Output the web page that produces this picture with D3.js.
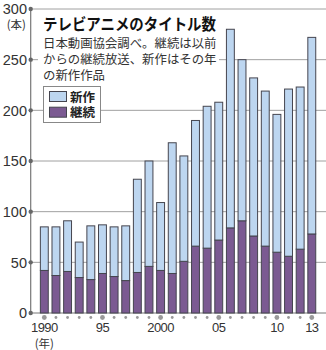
<!DOCTYPE html>
<html><head><meta charset="utf-8">
<script src="https://cdn.jsdelivr.net/npm/d3@7"></script>
<style>html,body{margin:0;padding:0;background:#fff;}svg{display:block;}</style>
</head><body>
<script>
const years = d3.range(1990, 2014);
const continuing = [42,37,41,35,33,39,36,32,40,46,42,39,51,66,64,72,84,91,76,66,60,56,63,78];
const newTitles = [43,48,50,35,53,48,49,54,92,104,67,129,104,124,140,136,196,159,156,153,136,165,160,194];
const yTicks = [0,50,100,150,200,250,300];
const xLabelYears = [1990,1995,2000,2005,2010,2013];
const xLabels = ["1990","95","2000","05","10","13"];
const seriesNames = ["新作","継続"];
const title = "テレビアニメのタイトル数";
const noteLines = ["日本動画協会調べ。継続は以前","からの継続放送、新作はその年","の新作作品"];

const W = 326, H = 350;
const svg = d3.select("body").append("svg").attr("width", W).attr("height", H);
const colNew = "#bdd6f0", colCont = "#7b5a92", stroke = "#45454f";
const fontNum = "'Liberation Sans', Arial, sans-serif";
const fontJP = "'Noto Sans CJK JP', sans-serif";

const y = d3.scaleLinear().domain([0,300]).range([313, 9]);
const x = d3.scaleBand().domain(years).range([38.5, 317.6]).paddingInner(0.32).paddingOuter(0.16);
const axisX = 30.7;

// gridlines
svg.append("g").selectAll("line").data(yTicks).join("line")
  .attr("x1", axisX).attr("x2", W).attr("y1", d => y(d)).attr("y2", d => y(d))
  .attr("stroke", d => d === 0 ? "#777" : "#a0a0a0").attr("stroke-width", 1);
// y axis line
svg.append("line").attr("x1", axisX).attr("x2", axisX).attr("y1", y(300)).attr("y2", y(0))
  .attr("stroke", "#777").attr("stroke-width", 1.2);

// stacked data
const stackData = years.map((yr, i) => ({year: yr, cont: continuing[i], nw: newTitles[i]}));
const stack = d3.stack().keys(["cont","nw"])(stackData);
const colors = {cont: colCont, nw: colNew};
svg.append("g").selectAll("g").data(stack).join("g")
  .attr("fill", d => colors[d.key])
  .selectAll("rect").data(d => d).join("rect")
  .attr("x", d => x(d.data.year)).attr("width", x.bandwidth())
  .attr("y", d => y(d[1])).attr("height", d => y(d[0]) - y(d[1]))
  .attr("stroke", stroke).attr("stroke-width", 1);

// y tick dots and labels
svg.append("g").selectAll("circle").data(yTicks).join("circle")
  .attr("cx", axisX).attr("cy", d => y(d)).attr("r", 2.2).attr("fill", "#666");
svg.append("g").selectAll("text").data(yTicks).join("text")
  .attr("x", 27).attr("y", d => y(d)).attr("dy", "0.36em")
  .attr("text-anchor", "end").attr("font-family", fontNum).attr("font-size", 14.5)
  .attr("fill", "#333").text(d => d);
svg.append("text").attr("x", 26).attr("y", 28.5).attr("text-anchor", "end")
  .attr("font-family", fontJP).attr("font-size", 11.5).attr("fill", "#333").text("(本)");

// x dots
svg.append("g").selectAll("circle").data(years).join("circle")
  .attr("cx", d => x(d) + x.bandwidth()/2).attr("cy", 317.5)
  .attr("r", d => xLabelYears.includes(d) ? 2.4 : 1.4).attr("fill", "#999");
svg.append("g").selectAll("text").data(xLabelYears).join("text")
  .attr("x", d => x(d) + x.bandwidth()/2).attr("y", 331.5)
  .attr("text-anchor", "middle").attr("font-family", fontNum).attr("font-size", 13)
  .attr("letter-spacing", -0.6).attr("fill", "#333").text((d,i) => xLabels[i]);
svg.append("text").attr("x", x(1990) + x.bandwidth()/2).attr("y", 347.5).attr("text-anchor", "middle")
  .attr("font-family", fontJP).attr("font-size", 11.5).attr("fill", "#333").text("(年)");

// title block
svg.append("rect").attr("x", 38).attr("y", 12).attr("width", 181).attr("height", 72).attr("fill", "#fff");
svg.append("text").attr("x", 43).attr("y", 30).attr("font-family", fontJP).attr("font-weight", "bold")
  .attr("font-size", 16).attr("textLength", 173).attr("lengthAdjust", "spacingAndGlyphs")
  .attr("fill", "#111").text(title);
svg.append("g").selectAll("text").data(noteLines).join("text")
  .attr("x", 43).attr("y", (d,i) => 48 + i*16)
  .attr("font-family", fontJP).attr("font-size", 12.4).attr("fill", "#333").text(d => d);

// legend
const lg = svg.append("g");
lg.append("rect").attr("x", 43.5).attr("y", 86.5).attr("width", 57).attr("height", 36)
  .attr("fill", "#fff").attr("stroke", "#888").attr("stroke-width", 1);
const legColors = [colNew, colCont];
lg.selectAll("rect.sw").data(seriesNames).join("rect").attr("class", "sw")
  .attr("x", 49.5).attr("y", (d,i) => 91.5 + i*15.7).attr("width", 17).attr("height", 10)
  .attr("fill", (d,i) => legColors[i]).attr("stroke", stroke).attr("stroke-width", 1);
lg.selectAll("text").data(seriesNames).join("text")
  .attr("x", 70).attr("y", (d,i) => 101.5 + i*15.7)
  .attr("font-family", fontJP).attr("font-weight", "bold").attr("font-size", 12.5)
  .attr("fill", "#222").text(d => d);
</script>
</body></html>
